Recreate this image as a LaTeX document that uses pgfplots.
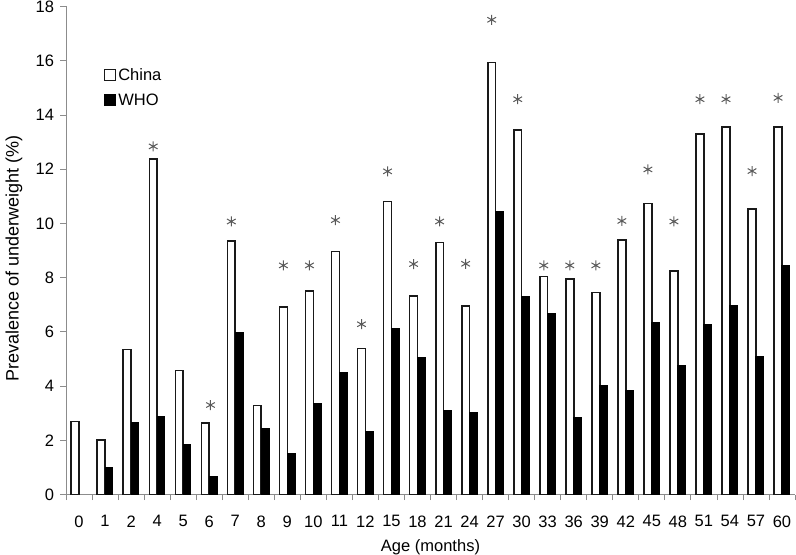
\documentclass[border=0pt]{standalone}
\usepackage{fontspec}
\setmainfont{Liberation Sans}
\usepackage{pgfplots}
\pgfplotsset{compat=1.18}

\newcommand\fs{\fontsize{16.5}{19}\selectfont}
\newcommand\fl{\fontsize{18}{21}\selectfont}
\definecolor{axisgray}{HTML}{8C8C8C}
\definecolor{stargray}{HTML}{5A5A5A}

\begin{document}
\begin{tikzpicture}
\begin{axis}[
    name=ax,
    scale only axis,
    width=729pt, height=488pt,
    xmin=-0.5, xmax=27.5,
    ymin=0, ymax=18,
    axis lines*=left,
    axis line style={axisgray, line width=0.8pt},
    tick style={axisgray, line width=0.8pt},
    tick align=outside,
    major tick length=5.5pt,
    xtick={-0.5,0.5,...,27.5},
    x tick label as interval,
    xticklabels={0,1,2,4,5,6,7,8,9,10,11,12,15,18,21,24,27,30,33,36,39,42,45,48,51,54,57,60},
    ytick={0,2,...,18},
    /pgf/number format/assume math mode=true,
    tick label style={font=\fs},
    y tick label style={xshift=-3pt},
    x tick label style={yshift=-12pt},
    xlabel={Age (months)},
    ylabel={Prevalence of underweight (\%)},
    xlabel style={font=\fs, at={(axis description cs:0.5,-0.109)}, anchor=center},
    ylabel style={font=\fl, at={(axis description cs:-0.0713,0.483)}, anchor=center, rotate=0},
    ybar,
    bar width=0.3,
    legend style={draw=none, fill=none, font=\fs,
        at={(axis description cs:0.052,0.878)}, anchor=north west,
        row sep=8pt, inner sep=0pt},
    legend cell align=left,
    legend image code/.code={\draw[#1, line width=1.2pt] (0pt,-5.5pt) rectangle (11pt,5.5pt);},
    clip=false,
]
% China
\addplot[bar shift=-0.15, fill=white, draw=black!90, line width=1.6pt] coordinates {
    (0,2.70) (1,2.00) (2,5.35) (3,12.37) (4,4.58) (5,2.63) (6,9.35)
    (7,3.28) (8,6.91) (9,7.51) (10,8.96) (11,5.39) (12,10.80) (13,7.33)
    (14,9.30) (15,6.96) (16,15.94) (17,13.44) (18,8.04) (19,7.95) (20,7.45)
    (21,9.39) (22,10.74) (23,8.25) (24,13.29) (25,13.56) (26,10.53) (27,13.56)
};
\addlegendentry{China}
% WHO
\addplot[bar shift=0.15, fill=black, draw=black, line width=1pt] coordinates {
    (1,1.00) (2,2.67) (3,2.89) (4,1.85) (5,0.67) (6,5.97)
    (7,2.45) (8,1.52) (9,3.36) (10,4.51) (11,2.34) (12,6.12) (13,5.04)
    (14,3.09) (15,3.03) (16,10.44) (17,7.31) (18,6.66) (19,2.83) (20,4.01)
    (21,3.85) (22,6.34) (23,4.76) (24,6.28) (25,6.98) (26,5.09) (27,8.46)
};
\addlegendentry{WHO}
% significance asterisks
\addplot[forget plot, only marks, mark=asterisk, mark size=5pt, stargray,
    mark options={line width=1pt}] coordinates {
    (2.85,12.84) (5.05,3.30) (5.85,10.07) (7.85,8.45) (8.85,8.45) (9.85,10.12)
    (10.85,6.28) (11.85,11.92) (12.85,8.50) (13.85,10.07) (14.85,8.51)
    (15.85,17.51) (16.85,14.58) (17.85,8.45) (18.85,8.45) (19.85,8.45)
    (20.85,10.09) (21.85,11.99) (22.85,10.07) (23.85,14.58) (24.85,14.58)
    (25.85,11.93) (26.85,14.63)
};
\end{axis}
\pgfresetboundingbox
\path[use as bounding box] ([xshift=-66pt,yshift=-59.5pt]ax.south west) rectangle ([xshift=1pt,yshift=6.5pt]ax.north east);
\end{tikzpicture}
\end{document}
